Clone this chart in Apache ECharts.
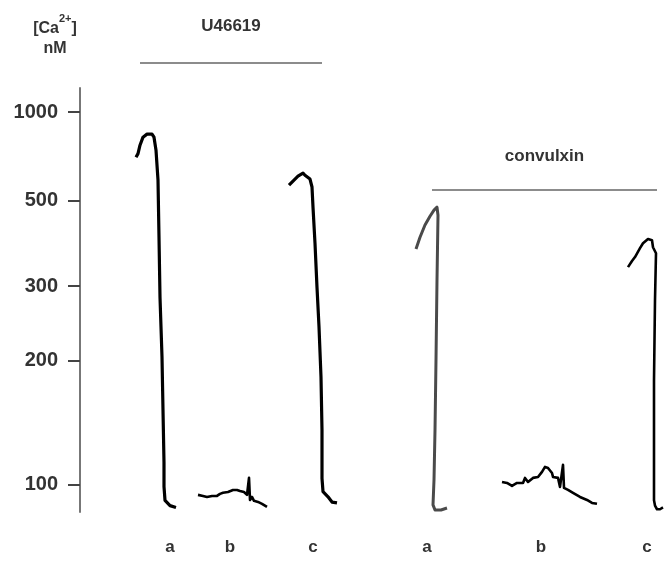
<!DOCTYPE html>
<html>
<head>
<meta charset="utf-8">
<script src="https://cdn.jsdelivr.net/npm/echarts@6/dist/echarts.min.js"></script>
<style>
  html, body { margin: 0; padding: 0; background: #fff; }
  #chart { width: 664px; height: 565px; }
</style>
</head>
<body>
<div id="chart"></div>
<script>
// [Ca2+] (nM) against time (arbitrary units, recordings placed side by side)
const u46619A_t  = [56, 58, 60, 63, 67, 72, 74, 76, 78, 79, 80, 82, 83, 84, 84, 85, 90, 96];
const u46619A_ca = [681, 700, 748, 799, 820, 820, 799, 719, 576, 398, 282, 204, 153, 114, 99, 91, 88, 87];

const u46619B_t  = [118, 123, 127, 132, 137, 140, 143, 148, 153, 157, 160, 164, 167, 169, 170, 172, 174, 178, 182, 187];
const u46619B_ca = [94.1, 93.5, 92.9, 93.5, 93.5, 94.7, 95.3, 95.8, 97.0, 97.0, 96.4, 95.8, 94.1, 104.3, 91.2, 92.9, 90.7, 90.1, 89.0, 87.3];

const u46619C_t  = [209, 213, 218, 223, 225, 230, 232, 233, 235, 237, 239, 241, 242, 242, 243, 248, 252, 257];
const u46619C_ca = [556, 572, 592, 605, 596, 580, 549, 480, 384, 298, 240, 183, 137, 104, 96, 93, 90, 89.5];

const convA_t  = [336, 340, 345, 350, 354, 357, 358, 357, 356, 355, 354, 353, 355, 361, 367];
const convA_ca = [371, 398, 429, 453, 471, 480, 456, 310, 201, 137, 103, 88.4, 85.6, 85.6, 86.7];

const convB_t  = [422, 427, 432, 437, 443, 445, 448, 453, 458, 462, 465, 468, 472, 473, 478, 480, 483, 484, 488, 493, 500, 507, 512, 517];
const convB_ca = [101.8, 101.2, 99.4, 101.2, 101.2, 104.3, 101.8, 104.3, 104.9, 108.1, 111.3, 110.6, 107.4, 104.9, 104.3, 98.8, 112.6, 98.2, 97.0, 95.3, 92.9, 91.2, 89.5, 89.0];

const convC_t  = [548, 552, 555, 560, 563, 568, 572, 573, 576, 575, 574, 574, 574, 575, 577, 580, 583];
const convC_ca = [334, 346, 354, 373, 384, 394, 391, 375, 362, 278, 180, 123, 91, 88, 86, 86, 87];

// y tick labels (nM) and trace labels under the recordings
const yTicks = [100, 200, 300, 500, 1000];
const traceLetters = ['a', 'b', 'c', 'a', 'b', 'c'];
const traceLetterT = [90, 150, 233, 347, 461, 567];

// stimulus bars
const stimulusNames = ['U46619', 'convulxin'];
const stimulusStart = [60, 352];
const stimulusEnd = [242, 577];

// the axis is linear in fluorescence ratio: R ~ Ca / (Ca + Kd)
const KD = 200;
const toRatio = ca => ca / (ca + KD);
const tickRatios = yTicks.map(toRatio);

const pairs = (t, ca) => t.map((x, i) => [x, toRatio(ca[i])]);

const FONT = 'Liberation Sans';
const TEXT = '#333';

function trace(name, t, ca, color, width) {
  return {
    name: name,
    type: 'line',
    data: pairs(t, ca),
    showSymbol: false,
    lineStyle: { color: color, width: width, join: 'round' },
    animation: false
  };
}

const chart = echarts.init(document.getElementById('chart'));

chart.setOption({
  backgroundColor: '#fff',
  animation: false,
  grid: { left: 80, right: 0, top: 88, bottom: 53 },
  xAxis: {
    type: 'value',
    min: 0,
    max: 584,
    axisLine: { show: false },
    axisTick: { show: false },
    splitLine: { show: false },
    axisLabel: {
      customValues: traceLetterT,
      formatter: v => traceLetters[traceLetterT.indexOf(v)] || '',
      margin: 27,
      fontFamily: FONT,
      fontWeight: 'bold',
      fontSize: 17,
      color: TEXT
    }
  },
  yAxis: {
    type: 'value',
    min: toRatio(84.5),
    max: toRatio(1290),
    splitLine: { show: false },
    axisLine: { show: true, lineStyle: { color: '#777', width: 2 } },
    axisTick: {
      show: true,
      customValues: tickRatios,
      length: 12,
      lineStyle: { color: '#444', width: 2 }
    },
    axisLabel: {
      customValues: tickRatios,
      formatter: v => {
        const i = tickRatios.findIndex(r => Math.abs(r - v) < 1e-9);
        return i >= 0 ? String(yTicks[i]) : '';
      },
      margin: 22,
      fontFamily: FONT,
      fontWeight: 'bold',
      fontSize: 20,
      color: TEXT
    }
  },
  series: [
    trace('U46619 a', u46619A_t, u46619A_ca, '#000', 3.2),
    trace('U46619 b', u46619B_t, u46619B_ca, '#000', 2.6),
    trace('U46619 c', u46619C_t, u46619C_ca, '#000', 3.2),
    trace('convulxin a', convA_t, convA_ca, '#4a4a4a', 3),
    trace('convulxin b', convB_t, convB_ca, '#000', 2.6),
    trace('convulxin c', convC_t, convC_ca, '#000', 2.6)
  ]
});

// stimulus bars and their labels, x taken from the time axis
const barY = [63, 190];
const labelY = [26, 156];
const graphics = [];
stimulusNames.forEach((name, i) => {
  const x0 = chart.convertToPixel({ gridIndex: 0 }, [stimulusStart[i], 0])[0];
  const x1 = chart.convertToPixel({ gridIndex: 0 }, [stimulusEnd[i], 0])[0];
  graphics.push({
    type: 'line',
    shape: { x1: x0, y1: barY[i], x2: x1, y2: barY[i] },
    style: { stroke: '#666', lineWidth: 1.6 }
  });
  graphics.push({
    type: 'text',
    style: {
      text: name,
      x: (x0 + x1) / 2,
      y: labelY[i],
      align: 'center',
      verticalAlign: 'middle',
      font: 'bold 17px "' + FONT + '"',
      fill: TEXT
    }
  });
});

// y axis title
graphics.push({
  type: 'text',
  style: {
    text: '{b|[Ca}{s|2+}{b|]}',
    x: 55,
    y: 25,
    align: 'center',
    verticalAlign: 'middle',
    rich: {
      b: { fontFamily: FONT, fontWeight: 'bold', fontSize: 16, fill: TEXT, color: TEXT, lineHeight: 24, verticalAlign: 'bottom' },
      s: { fontFamily: FONT, fontWeight: 'bold', fontSize: 11, fill: TEXT, color: TEXT, lineHeight: 24, verticalAlign: 'top' }
    }
  }
});
graphics.push({
  type: 'text',
  style: {
    text: 'nM',
    x: 55,
    y: 49,
    align: 'center',
    verticalAlign: 'middle',
    font: 'bold 16px "' + FONT + '"',
    fill: TEXT
  }
});

chart.setOption({ graphic: graphics });
</script>
</body>
</html>
